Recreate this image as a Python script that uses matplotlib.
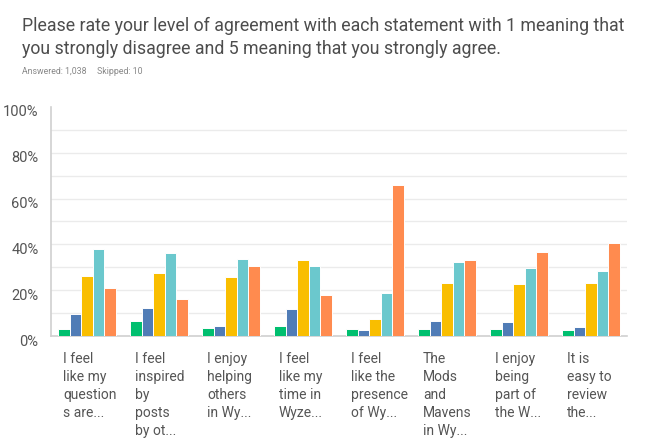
import numpy as np
import matplotlib.pyplot as plt
from matplotlib import transforms

questions = [
    "I feel\nlike my\nquestion\ns are...",
    "I feel\ninspired\nby\nposts\nby ot...",
    "I enjoy\nhelping\nothers\nin Wy...",
    "I feel\nlike my\ntime in\nWyze...",
    "I feel\nlike the\npresence\nof Wy...",
    "The\nMods\nand\nMavens\nin Wy...",
    "I enjoy\nbeing\npart of\nthe W...",
    "It is\neasy to\nreview\nthe...",
]
rating_1 = [2.9, 6.5, 3.5, 4.5, 2.9, 2.9, 2.9, 2.5]
rating_2 = [9.6, 12.1, 4.5, 11.6, 2.5, 6.5, 6.1, 4.1]
rating_3 = [26.2, 27.6, 25.6, 33.1, 7.6, 23.1, 22.7, 23.1]
rating_4 = [38.2, 36.2, 33.6, 30.7, 18.6, 32.1, 29.7, 28.2]
rating_5 = [21.1, 16.1, 30.7, 18.0, 65.8, 33.1, 36.6, 40.7]
colors = ["#00BF6F", "#507CB6", "#F9BE00", "#6BC8CD", "#FF8B4F"]

series = [rating_1, rating_2, rating_3, rating_4, rating_5]

fig = plt.figure(figsize=(6.46, 4.40), dpi=100)
ax = fig.add_axes([51 / 646, 104 / 440, 576 / 646, 229 / 440])

x = np.arange(len(questions)) + 0.5
w = 0.161
for k, vals in enumerate(series):
    ax.bar(x + (k - 2) * w, vals, width=w, color=colors[k],
           edgecolor="white", linewidth=0.7, zorder=3)

ax.set_xlim(0, len(questions))
ax.set_ylim(0, 100)
ax.set_yticks(range(0, 101, 20))
ax.set_yticklabels([f"{v}%" for v in range(0, 101, 20)], fontsize=10.5,
                   color="#555555", family="Roboto")
# gridlines every 10%, none at the top
for g in range(10, 100, 10):
    ax.axhline(g, color="#ebebeb", linewidth=1, zorder=0)
ax.set_xticks([])
ax.tick_params(axis="y", length=0, pad=9)
for s in ["top", "right"]:
    ax.spines[s].set_visible(False)
for s in ["left", "bottom"]:
    ax.spines[s].set_color("#d0d0d0")
    ax.spines[s].set_linewidth(1.2)

# tick labels sit a little below their gridlines
off = transforms.ScaledTranslation(0, -4 / 100, fig.dpi_scale_trans)
for lab in ax.get_yticklabels():
    lab.set_transform(lab.get_transform() + off)

trans = transforms.blended_transform_factory(ax.transData, ax.transAxes)
for i, q in enumerate(questions):
    ax.text(i + 0.167, -0.07, q, transform=trans, ha="left", va="top",
            fontsize=10, color="#555555", family="Roboto", linespacing=1.36)

fig.text(22 / 646, 1 - 17 / 440,
         "Please rate your level of agreement with each statement with 1 meaning that\n"
         "you strongly disagree and 5 meaning that you strongly agree.",
         ha="left", va="top", fontsize=12.8, color="#4d4d4d",
         family="Roboto", linespacing=1.35)
fig.text(22 / 646, 1 - 72 / 440, "Answered: 1,038     Skipped: 10",
         ha="left", va="center", fontsize=6.3, color="#888888", family="Roboto")

fig.savefig("out.png", dpi=100)
